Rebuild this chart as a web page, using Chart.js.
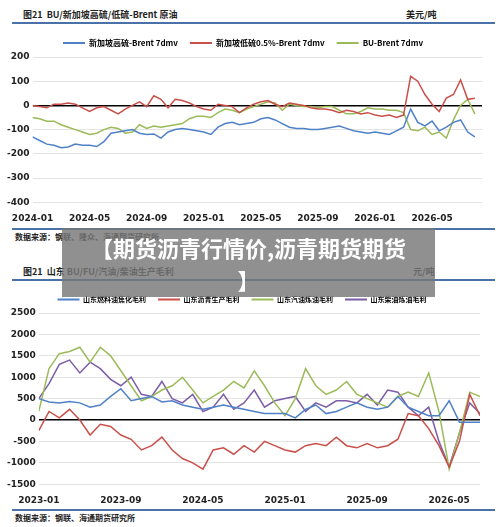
<!DOCTYPE html>
<html><head><meta charset="utf-8">
<script src="https://cdn.jsdelivr.net/npm/chart.js@4"></script>
<style>
body{margin:0;width:500px;height:527px;background:#fff;position:relative;overflow:hidden;font-family:"Noto Sans CJK SC","DejaVu Sans",sans-serif}
.t{position:absolute;font-size:9px;font-weight:bold;color:#222;white-space:nowrap}
.hr{position:absolute;left:12px;width:483px;height:2px;background:#4a72a8}
#c1{position:absolute;left:0;top:27px}
#c2{position:absolute;left:0;top:284px}
#ban{position:absolute;left:62px;top:228px;width:373px;height:69px;background:rgba(120,120,120,0.82);color:#fff;font-weight:bold;font-size:22px;text-align:center;line-height:32px;padding-top:3px;box-sizing:border-box}
</style></head><body>
<div class="t" style="left:23px;top:8px">图21&nbsp;&nbsp;BU/新加坡高硫/低硫-Brent 原油</div>
<div class="t" style="left:406px;top:8px">美元/吨</div>
<div class="hr" style="top:22px"></div>
<canvas id="c1" width="490" height="200"></canvas>
<div class="hr" style="top:228px"></div>
<div class="t" style="left:15px;top:231px;font-size:8px">数据来源：钢联、隆众、海通期货研究所</div>
<div class="t" style="left:23px;top:265px">图21&nbsp;&nbsp;山东 BU/FU/汽油/柴油生产毛利</div>
<div class="t" style="left:413px;top:265px">元/吨</div>
<div class="hr" style="top:279px"></div>
<canvas id="c2" width="490" height="225"></canvas>
<div class="hr" style="top:509px"></div>
<div class="t" style="left:15px;top:512px;font-size:8px">数据来源：钢联、海通期货研究所</div>
<div id="ban">【期货沥青行情价,沥青期货期货<br>】</div>
<script>
// Top chart: half-month steps from 2024-01
const topTicks=["2024-01","2024-05","2024-09","2025-01","2025-05","2025-09","2026-01","2026-05"];
const sgHigh=[-130,-145,-160,-165,-175,-172,-160,-165,-165,-170,-150,-115,-110,-105,-100,-115,-120,-118,-135,-110,-100,-95,-100,-105,-110,-120,-90,-75,-70,-80,-75,-70,-55,-50,-60,-75,-90,-95,-95,-100,-100,-95,-90,-85,-95,-105,-110,-115,-110,-115,-120,-105,-90,-15,-70,-85,-65,-105,-90,-70,-60,-110,-130];
const sgLow=[0,-5,-10,5,5,10,5,-10,-25,-10,-5,-20,-35,-15,0,15,-5,40,25,-10,25,20,10,-5,-15,-20,5,0,-5,-30,-10,5,15,20,5,-5,10,5,0,-10,-15,-15,-20,-30,-20,-25,-35,-30,-40,-45,-40,-50,-40,120,100,45,5,-25,30,45,105,25,30];
const buBrent=[-50,-55,-65,-65,-80,-90,-100,-110,-120,-115,-100,-90,-95,-115,-110,-80,-95,-85,-90,-85,-80,-75,-55,-45,-45,-50,-30,-15,-20,-30,-15,-5,5,15,10,-20,5,0,-5,-5,-10,-5,-5,-20,-35,-35,-25,-10,-15,-15,-20,-20,-30,-100,-105,-90,-120,-110,-135,-60,0,25,-35];
// Bottom chart: monthly steps from 2023-01
const botTicks=["2023-01","2023-09","2024-05","2025-01","2025-09","2026-05"];
const fuCoke=[500,420,400,430,400,300,350,550,730,450,500,550,420,450,350,300,250,300,350,300,250,200,150,150,150,50,250,350,150,200,300,400,300,250,300,550,300,200,100,100,450,-50,-50,-50];
const buMargin=[-250,200,50,250,0,-350,-100,-150,-350,-450,-700,-600,-400,-700,-900,-1000,-1150,-700,-650,-800,-600,-750,-500,-600,-700,-750,-600,-550,-600,-400,-600,-650,-550,-650,-600,-450,150,100,-200,-600,-1100,-500,600,100];
const gasoline=[200,1200,1550,1600,1700,1350,1700,1500,1150,800,450,550,700,800,1000,700,400,550,700,900,750,1150,800,400,100,500,1200,800,600,700,900,600,500,400,300,550,650,550,1100,200,-1150,-300,650,550];
const diesel=[500,850,1300,1400,1100,1350,1200,950,800,1000,600,550,900,500,400,600,200,300,600,250,400,700,300,450,500,550,200,400,300,450,450,400,600,350,700,650,300,100,300,-500,-1100,-300,400,150];

const F='"DejaVu Sans",sans-serif';
function pts(a,step){return a.map((v,i)=>({x:i*step,y:v}));}
function ds(label,a,step,color){return {label,data:pts(a,step),borderColor:color,backgroundColor:color,borderWidth:1.5,pointRadius:0,tension:0};}
function mk(id,datasets,ticks,stepM,xmax,ymin,ymax,ystep,pad,legFont){
 new Chart(document.getElementById(id),{type:'line',data:{datasets},
 options:{responsive:false,animation:false,layout:{padding:pad},
 plugins:{legend:{labels:{font:{family:'"Noto Sans CJK SC",'+F,size:legFont,weight:'bold'},color:'#333',boxWidth:22,boxHeight:0,padding:12,
  generateLabels:c=>c.data.datasets.map((d,i)=>({text:d.label,strokeStyle:d.borderColor,fillStyle:d.borderColor,lineWidth:2,datasetIndex:i}))}},tooltip:{enabled:false}},
 scales:{x:{type:'linear',min:0,max:xmax,grid:{display:false},border:{display:false},
  afterBuildTicks:s=>{s.ticks=ticks.map((t,i)=>({value:i*stepM}));},
  ticks:{callback:(v,i)=>ticks[i],font:{family:F,size:9,weight:'bold'},color:'#222',maxRotation:0,autoSkip:false}},
  y:{min:ymin,max:ymax,border:{display:false},ticks:{stepSize:ystep,callback:v=>String(v),font:{family:F,size:9,weight:'bold'},color:'#222'},
  grid:{color:c=>c.tick.value===0?'#000':'#ddd',lineWidth:c=>c.tick.value===0?1.5:0.8,drawTicks:false}}}}});
}
mk('c1',[ds('新加坡高硫-Brent 7dmv',sgHigh,0.5,'#4f81c7'),ds('新加坡低硫0.5%-Brent 7dmv',sgLow,0.5,'#c9504a'),ds('BU-Brent 7dmv',buBrent,0.5,'#9bbb59')],
 topTicks,4,31.5,-400,200,100,{left:4,right:8,top:0,bottom:0},8);
mk('c2',[ds('山东燃料油焦化毛利',fuCoke,1,'#4f81c7'),ds('山东沥青生产毛利',buMargin,1,'#c9504a'),ds('山东汽油炼油毛利',gasoline,1,'#9bbb59'),ds('山东柴油炼油毛利',diesel,1,'#7b5ea7')],
 botTicks,8,43,-1500,2500,500,{left:4,right:10,top:0,bottom:0},7);
</script>
</body></html>
